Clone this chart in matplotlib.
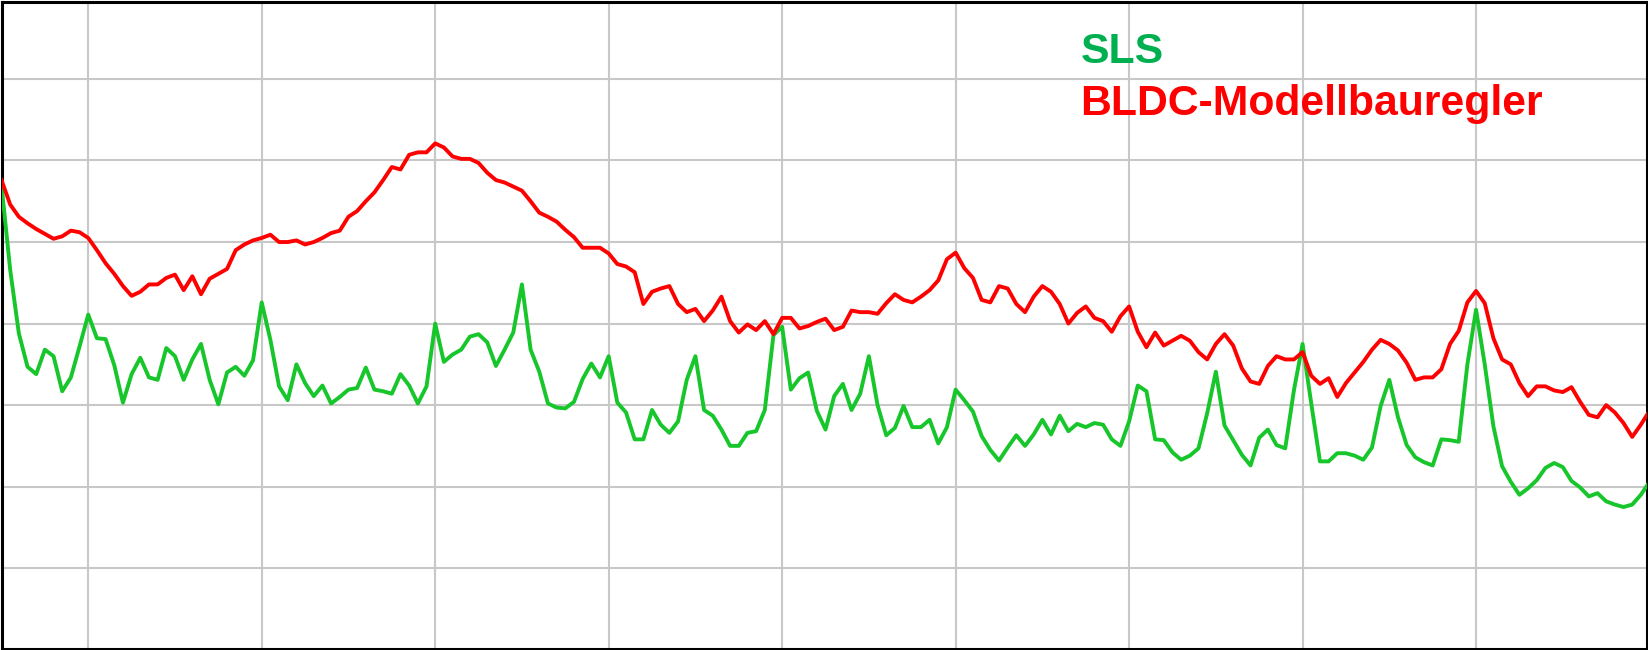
import numpy as np
import matplotlib.pyplot as plt

# level readings, one per step (arbitrary units, grid every 10)
bldc = [57.6, 54.6, 53.1, 52.3, 51.6, 51.0, 50.4, 50.7, 51.4, 51.2,
        50.5, 49.0, 47.4, 46.1, 44.6, 43.4, 43.9, 44.8, 44.8, 45.6,
        46.0, 44.1, 45.8, 43.6, 45.5, 46.1, 46.7, 49.0, 49.7, 50.2,
        50.5, 50.9, 50.0, 50.0, 50.2, 49.7, 50.0, 50.5, 51.1, 51.4,
        53.1, 53.8, 55.0, 56.1, 57.6, 59.2, 58.9, 60.7, 61.0, 61.0,
        62.1, 61.6, 60.5, 60.2, 60.2, 59.7, 58.5, 57.6, 57.3, 56.8,
        56.3, 55.0, 53.6, 53.1, 52.5, 51.5, 50.6, 49.3, 49.3, 49.3,
        48.6, 47.3, 47.0, 46.3, 42.4, 43.9, 44.3, 44.6, 42.4, 41.4,
        41.8, 40.3, 41.6, 43.3, 40.3, 38.9, 39.9, 39.2, 40.3, 38.7,
        40.7, 40.7, 39.4, 39.7, 40.2, 40.6, 39.2, 39.6, 41.6, 41.4,
        41.4, 41.2, 42.5, 43.6, 42.9, 42.6, 43.3, 44.1, 45.3, 47.9,
        48.7, 46.8, 45.6, 42.9, 42.6, 44.6, 44.3, 42.4, 41.4, 43.3,
        44.6, 43.9, 42.4, 40.0, 41.3, 42.1, 40.7, 40.3, 39.0, 40.9,
        42.1, 39.0, 37.1, 38.9, 37.3, 37.9, 38.5, 37.9, 36.5, 35.6,
        37.5, 38.7, 37.3, 34.5, 32.9, 32.6, 34.8, 36.0, 35.6, 35.6,
        36.5, 33.6, 32.6, 33.3, 31.0, 32.7, 34.0, 35.3, 36.8, 38.0,
        37.5, 36.7, 35.2, 33.1, 33.4, 33.4, 34.4, 37.5, 39.1, 42.6,
        44.0, 42.5, 38.2, 35.6, 35.0, 32.7, 31.1, 32.3, 32.3, 31.8,
        31.6, 32.2, 30.4, 28.8, 28.5, 30.0, 29.1, 27.8, 26.1, 27.6,
        29.3]

sls = [57.0, 46.6, 38.8, 34.7, 33.8, 36.8, 36.0, 31.7, 33.4, 37.2,
       41.1, 38.2, 38.1, 34.9, 30.3, 33.8, 35.8, 33.4, 33.1, 37.0,
       36.0, 33.1, 35.6, 37.5, 33.1, 30.1, 34.0, 34.7, 33.6, 35.5,
       42.6, 38.0, 32.3, 30.6, 35.0, 32.7, 31.1, 32.4, 30.2, 31.0,
       31.9, 32.1, 34.6, 31.9, 31.7, 31.4, 33.8, 32.4, 30.2, 32.3,
       40.0, 35.3, 36.2, 36.8, 38.4, 38.7, 37.7, 34.8, 36.8, 38.9,
       44.8, 36.8, 34.1, 30.2, 29.7, 29.6, 30.4, 33.2, 35.1, 33.4,
       36.0, 30.3, 29.1, 25.8, 25.8, 29.4, 27.6, 26.6, 28.0, 33.1,
       36.0, 29.4, 28.7, 27.0, 25.0, 25.0, 26.6, 26.8, 29.4, 38.6,
       39.6, 31.9, 33.3, 34.0, 29.3, 27.0, 31.1, 32.6, 29.4, 31.4,
       36.0, 30.0, 26.3, 27.2, 29.9, 27.3, 27.3, 28.2, 25.3, 27.3,
       31.9, 30.6, 29.2, 26.2, 24.5, 23.2, 24.8, 26.3, 25.0, 26.4,
       28.2, 26.4, 28.7, 26.8, 27.7, 27.3, 27.8, 27.6, 25.8, 25.0,
       28.0, 32.4, 31.7, 25.8, 25.7, 24.2, 23.3, 23.8, 24.7, 29.0,
       34.1, 27.5, 25.7, 23.9, 22.6, 26.0, 27.0, 25.1, 24.7, 31.8,
       37.5, 30.2, 23.1, 23.1, 24.1, 24.1, 23.8, 23.3, 24.8, 29.9,
       33.1, 28.5, 25.1, 23.6, 23.0, 22.6, 25.8, 25.7, 25.5, 35.0,
       41.7, 35.0, 27.4, 22.5, 20.6, 19.0, 19.8, 20.8, 22.3, 22.9,
       22.4, 20.7, 19.9, 18.8, 19.2, 18.2, 17.8, 17.5, 17.8, 19.0,
       20.6]

x = np.arange(len(bldc))

fig = plt.figure(figsize=(16.48, 6.5), dpi=100)
ax = fig.add_axes([1.5 / 1648, 1.5 / 650, 1 - 3 / 1648, 1 - 3 / 650])

ax.plot(x, sls, color='#16C62A', lw=2.8, zorder=3)
ax.plot(x, bldc, color='#FF0000', lw=2.8, zorder=4)

ax.set_xlim(0, 189.65)
ax.set_ylim(0.15, 79.5)
ax.set_xticks(np.arange(10, 180, 20))
ax.set_yticks(np.arange(10, 80, 10))
ax.grid(True, color='#C8C8C8', lw=1.5)
ax.tick_params(length=0, labelbottom=False, labelleft=False)
for s in ax.spines.values():
    s.set_linewidth(2.2)
    s.set_color('black')

fig.text(0.6555, 0.903, 'SLS', color='#00B050', fontsize=30.8,
         fontweight='bold', family='Liberation Sans', va='baseline')
fig.text(0.6555, 0.823, 'BLDC-Modellbauregler', color='#FF0000', fontsize=30.8,
         fontweight='bold', family='Liberation Sans', va='baseline')

fig.savefig('out.png', dpi=100)
